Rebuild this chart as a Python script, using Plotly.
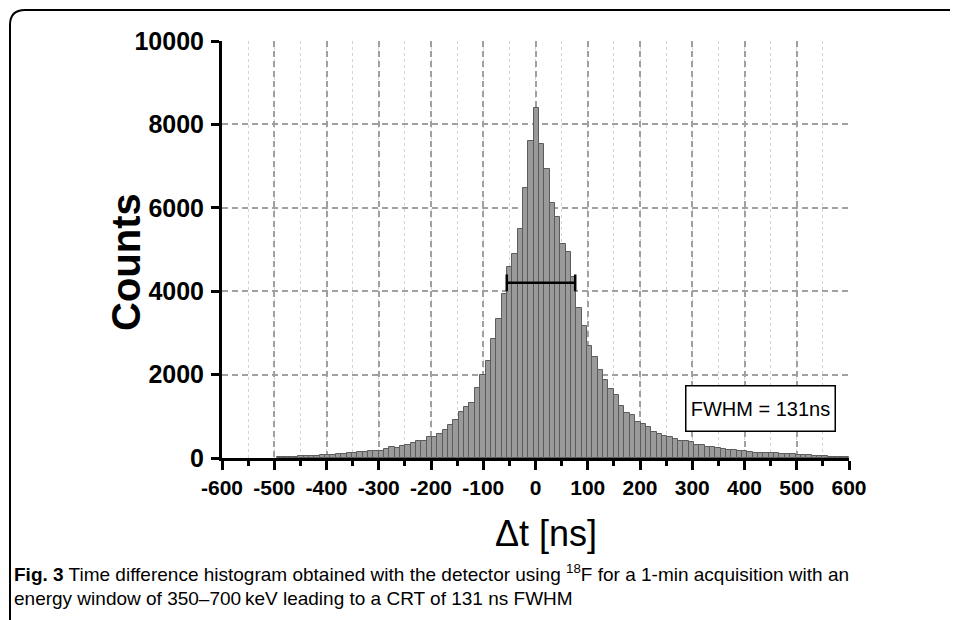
import plotly.graph_objects as go

# ---------------- data ----------------
bin_index = list(range(-48, 59))
bin_width_ns = 10.23
bin_centers_ns = [round(1.5 + bin_width_ns * k, 2) for k in bin_index]
counts = [
    22, 26, 30, 34, 38, 44, 50, 56, 62, 70,          # k=-48..-39
    80, 95, 105, 120, 130, 140, 150, 158, 168, 175,  # -38..-29
    216, 271, 232, 279, 312, 360, 416, 416, 495, 511,  # -28..-19
    567, 671, 799, 919, 1111, 1215, 1319, 1671, 1983, 2335,  # -18..-9
    2856, 3340, 3930, 4574, 4886, 5486, 6463, 7598,  # -8..-1
    8400,                                            # 0
    7535, 6935, 6127, 5791, 5143, 4934, 4330, 3600, 3175, 2695,  # 1..10
    2431, 2112, 1872, 1663, 1503, 1255, 1080, 1040, 871, 815,    # 11..20
    735, 631, 575, 535, 495, 447, 415, 399, 375, 311,            # 21..30
    311, 271, 255, 239, 223, 190, 180, 175, 160, 140,            # 31..40
    125, 120, 120, 110, 115, 105, 95, 95, 80, 72,                # 41..50
    72, 58, 48, 40, 34, 32, 25, 15,                              # 51..58
]
fwhm_x = [-55, 76]
fwhm_y = [4200, 4200]
x_ticks = [-600, -500, -400, -300, -200, -100, 0, 100, 200, 300, 400, 500, 600]
y_ticks = [0, 2000, 4000, 6000, 8000, 10000]
fwhm_label = "FWHM = 131ns"
x_title = "\u0394t [ns]"
y_title = "Counts"
caption_1 = "<b>Fig. 3</b> Time difference histogram obtained with the detector using <sup>18</sup>F for a 1-min acquisition with an"
caption_2 = "energy window of 350\u2013700\u2009keV leading to a CRT of 131 ns FWHM"

# ---------------- layout geometry ----------------
OFF = 8                      # page body margin of the exported html
W, H = 958 - OFF, 620 - OFF
PL, PR, PT, PB = 222 - OFF, 849 - OFF, 41 - OFF, 458 - OFF


def px(xp):
    return (xp - OFF - PL) / (PR - PL)


def py(yp):
    return (PB - (yp - OFF)) / (PB - PT)


fig = go.Figure()
fig.add_trace(go.Bar(
    x=bin_centers_ns, y=counts, width=bin_width_ns,
    marker=dict(color="#9a9a9a", line=dict(color="#5c5c5c", width=1)),
    showlegend=False, hoverinfo="x+y",
))
fig.add_trace(go.Scatter(
    x=fwhm_x, y=fwhm_y, mode="lines+markers",
    line=dict(color="black", width=2.5),
    marker=dict(symbol="line-ns", size=12, line=dict(color="black", width=2.5)),
    showlegend=False, hoverinfo="skip",
))

fig.update_layout(
    width=W, height=H,
    margin=dict(l=PL, r=W - PR, t=PT, b=H - PB, pad=0),
    paper_bgcolor="white", plot_bgcolor="white",
    bargap=0,
    xaxis=dict(
        range=[-600, 600], tickmode="array", tickvals=x_ticks,
        ticktext=[str(v) for v in x_ticks],
        showgrid=True, gridcolor="#a0a0a0", gridwidth=1.8, griddash="6px,4px",
        showline=True, linecolor="black", linewidth=3,
        ticks="outside", ticklen=9, tickwidth=3, tickcolor="black",
        minor=dict(dtick=50, tick0=0, showgrid=True, gridcolor="#d4d4d4",
                   gridwidth=1, griddash="dot", ticks="outside", ticklen=5,
                   tickwidth=3, tickcolor="black"),
        tickfont=dict(family="Liberation Sans", size=21, color="black", weight="bold"),
        ticklabelstandoff=0,
        zeroline=False, fixedrange=True,
    ),
    yaxis=dict(
        range=[0, 10000], tickmode="array", tickvals=y_ticks,
        ticktext=[str(v) for v in y_ticks],
        showgrid=True, gridcolor="#a0a0a0", gridwidth=1.8, griddash="6px,4px",
        showline=True, linecolor="black", linewidth=3,
        ticks="outside", ticklen=8, tickwidth=3, tickcolor="black",
        tickfont=dict(family="Liberation Sans", size=25, color="black", weight="bold"),
        ticklabelstandoff=2,
        zeroline=False, fixedrange=True,
    ),
)

# figure frame with rounded top-left corner
r = 15
frame = (f"M {px(990)},{py(660)} L {px(10)},{py(660)} L {px(10)},{py(10 + r)} "
         f"Q {px(10)},{py(10)} {px(10 + r)},{py(10)} L {px(990)},{py(10)}")
fig.add_shape(type="path", path=frame, xref="paper", yref="paper",
              line=dict(color="black", width=2))

fig.add_annotation(x=px(126), y=py(262), xref="paper", yref="paper",
                   xanchor="center", yanchor="middle",
                   text=y_title, textangle=-90, showarrow=False,
                   font=dict(family="Liberation Sans", size=40, color="black", weight="bold"))
fig.add_annotation(x=px(546), y=py(533), xref="paper", yref="paper",
                   xanchor="center", yanchor="middle",
                   text=x_title, showarrow=False,
                   font=dict(family="Liberation Sans", size=36, color="black"))
fig.add_annotation(x=px(760), y=py(408), xref="paper", yref="paper",
                   xanchor="center", yanchor="middle",
                   text=fwhm_label, showarrow=False, width=148, height=44,
                   bordercolor="black", borderwidth=1.5, borderpad=0, bgcolor="white",
                   font=dict(family="Liberation Sans", size=20, color="black"))
fig.add_annotation(x=px(12), y=py(573), xref="paper", yref="paper",
                   xanchor="left", yanchor="middle",
                   text=caption_1, showarrow=False, align="left",
                   font=dict(family="Liberation Sans", size=19, color="black"))
fig.add_annotation(x=px(12), y=py(598), xref="paper", yref="paper",
                   xanchor="left", yanchor="middle",
                   text=caption_2, showarrow=False, align="left",
                   font=dict(family="Liberation Sans", size=19, color="black"))

fig.write_html("out.html")
